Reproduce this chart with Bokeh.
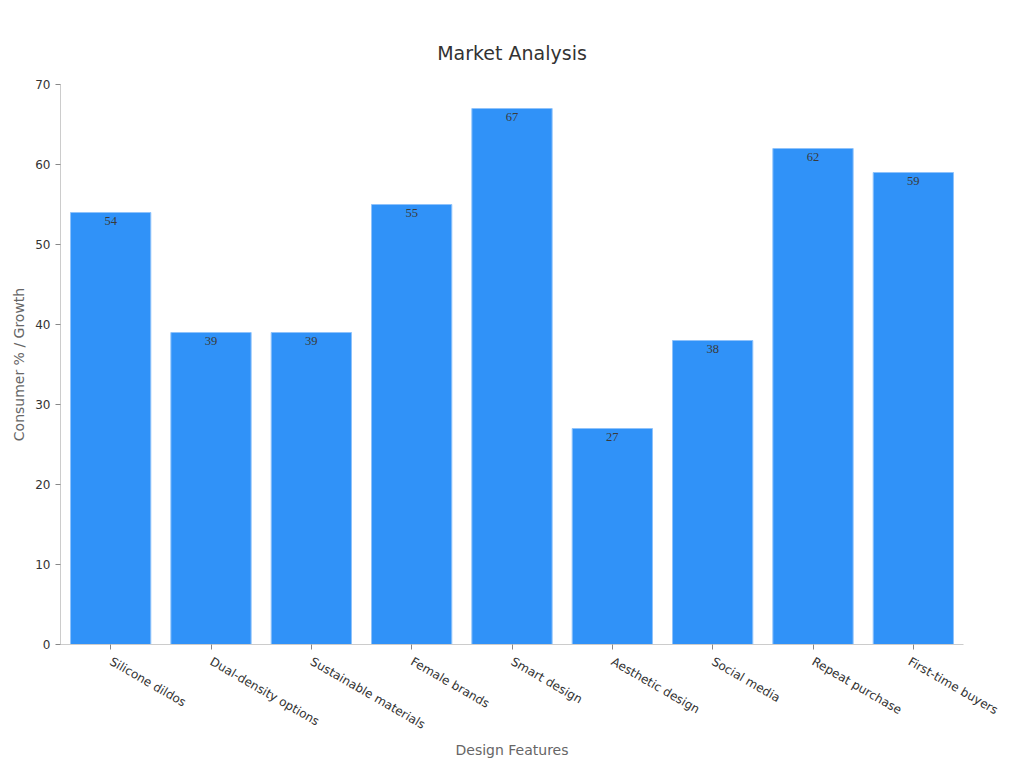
from bokeh.plotting import figure
from bokeh.models import ColumnDataSource, LabelSet
from bokeh.embed import file_html
from bokeh.resources import INLINE
import math

title_text = "Market Analysis"
categories = ["Silicone dildos", "Dual-density options", "Sustainable materials",
              "Female brands", "Smart design", "Aesthetic design", "Social media",
              "Repeat purchase", "First-time buyers"]
values = [54, 39, 39, 55, 67, 27, 38, 62, 59]

src = ColumnDataSource(dict(cat=categories, val=values, lab=[str(v) for v in values]))

FONT = "DejaVu Sans"
p = figure(x_range=categories, y_range=(0, 70), width=1000, height=764,
           output_backend="svg", toolbar_location=None, title=title_text,
           min_border_left=60, min_border_right=37, min_border_top=84, min_border_bottom=120)

p.vbar(x="cat", top="val", width=0.8, source=src,
       fill_color="#3092F8", line_color="#8EC2FB", line_width=1)

labels = LabelSet(x="cat", y="val", text="lab", source=src, y_offset=-4,
                  text_align="center", text_baseline="top",
                  text_font=FONT, text_font_size="12.5px", text_color="#3a3a3a")
p.add_layout(labels)

p.title.align = "center"
p.title.vertical_align = "top"
p.title.text_font = FONT
p.title.text_font_size = "19px"
p.title.text_font_style = "normal"
p.title.text_color = "#333333"
p.title.offset = 0
p.title.standoff = 38

p.xgrid.visible = False
p.ygrid.visible = False
p.outline_line_color = None

for ax in (p.xaxis[0], p.yaxis[0]):
    ax.axis_line_color = "#CCCCCC"
    ax.major_tick_line_color = "#888888"
    ax.minor_tick_line_color = None
    ax.major_tick_out = 5
    ax.major_tick_in = 0
    ax.major_label_text_font = FONT
    ax.major_label_text_font_size = "12px"
    ax.major_label_text_color = "#333333"
    ax.axis_label_text_font = FONT
    ax.axis_label_text_font_size = "14px"
    ax.axis_label_text_font_style = "normal"
    ax.axis_label_text_color = "#666666"

p.xaxis.axis_label = "Design Features"
p.yaxis.axis_label = "Consumer % / Growth"
p.xaxis.major_label_orientation = -math.pi / 6
p.xaxis.major_label_standoff = 11
p.xaxis.axis_label_standoff = 1
p.yaxis.ticker = [0, 10, 20, 30, 40, 50, 60, 70]

open("out.html", "w").write(file_html(p, INLINE))
